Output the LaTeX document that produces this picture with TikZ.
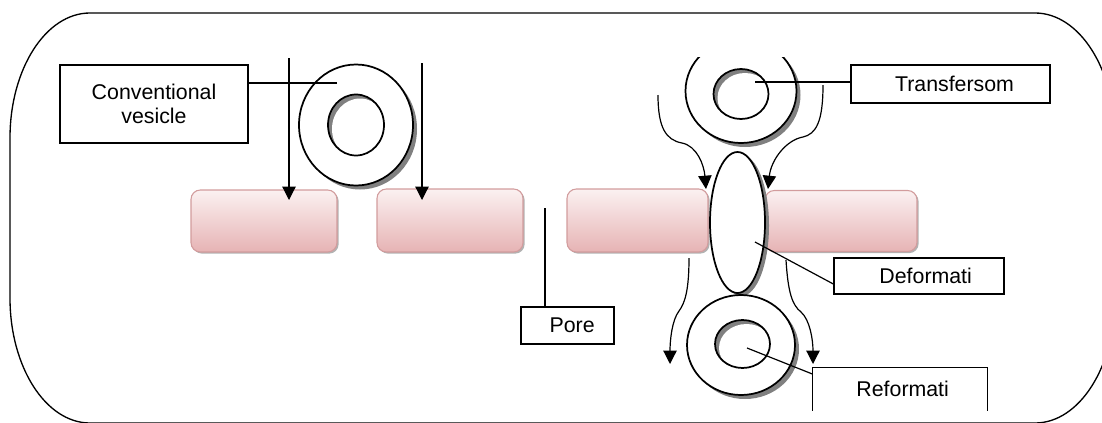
\documentclass[tikz,border=0pt]{standalone}
\usepackage{fontspec}
\setmainfont{Liberation Sans}
\usetikzlibrary{arrows.meta,shadows,calc}
\definecolor{barTop}{HTML}{FBF1F1}
\definecolor{barBot}{HTML}{E6B3B4}
\definecolor{barEdge}{HTML}{D29C9D}
\newdimen\pxu \pxu=0.75pt
\begin{document}
\begin{tikzpicture}[x=0.75pt,y=-0.75pt,
  lbl/.style={draw=black, line width=1pt, fill=white, inner sep=0pt,
    font=\fontsize{16}{18}\selectfont, align=center},
  membrane/.style={draw=barEdge, line width=0.8pt, rounded corners=7pt,
    top color=barTop, bottom color=barBot,
    drop shadow={shadow xshift=1.2pt, shadow yshift=-1.2pt, opacity=0.3, fill=black}},
  flow/.style={line width=0.9pt, -{Triangle[width=10pt,length=10pt]}},
  lead/.style={line width=0.9pt},
  ves/.style={line width=1.3pt},
  vshade/.style={fill=black!50},
  vfill/.style={fill=white}]
\useasboundingbox (0,0) rectangle (1102,422);
\clip (0,0) rectangle (1102,422);

% outer frame with large elliptical corners
\draw[line width=1pt] (10,138)
  arc[start angle=180,end angle=270,x radius=80,y radius=125] -- (1035,13)
  arc[start angle=270,end angle=360,x radius=80,y radius=125] -- (1115,298)
  arc[start angle=0,end angle=90,x radius=80,y radius=125] -- (90,423)
  arc[start angle=90,end angle=180,x radius=80,y radius=125] -- cycle;

% skin membrane segments
\node[membrane, minimum width=146\pxu, minimum height=62\pxu] (b1) at (264,221) {};
\node[membrane, minimum width=146\pxu, minimum height=63\pxu] (b2) at (450,220.5) {};
\node[membrane, minimum width=141\pxu, minimum height=63\pxu] (b3) at (637.5,220.5) {};
\node[membrane, minimum width=152\pxu, minimum height=61\pxu] (b4) at (841,221) {};

% conventional vesicle: shadowed ring, then white ring, then hole
\coordinate (cvc) at (356,125);
\coordinate (cvs) at (360,129);
\fill[vshade] (cvs) ellipse[x radius=57,y radius=60.5];
\fill[vfill] (cvc) ellipse[x radius=57,y radius=60.5];
\fill[vshade] (cvc) ellipse[x radius=28,y radius=30.5];
\fill[vfill] (cvs) ellipse[x radius=28,y radius=30.5];
\draw[ves] (cvc) ellipse[x radius=57,y radius=60.5];
\draw[ves] (cvc) ellipse[x radius=28,y radius=30.5];

% transfersome above the pore (top edge cut off)
\coordinate (tfc) at (741,91);
\coordinate (tfs) at (745,95);
\coordinate (tfi) at (741,94);
\coordinate (tfis) at (745,98);
\begin{scope}
  \clip (600,57) rectangle (900,200);
  \fill[vshade] (tfs) ellipse[x radius=55.5,y radius=52];
  \fill[vfill] (tfc) ellipse[x radius=55.5,y radius=52];
  \fill[vshade] (tfi) ellipse[x radius=27.5,y radius=25];
  \fill[vfill] (tfis) ellipse[x radius=27.5,y radius=25];
  \draw[ves] (tfc) ellipse[x radius=55.5,y radius=52];
  \draw[ves] (tfi) ellipse[x radius=27.5,y radius=25];
\end{scope}

% deformed vesicle squeezing through the pore
\coordinate (dfc) at (737.5,222.5);
\coordinate (dfs) at (741.5,225.5);
\fill[vshade] (dfs) ellipse[x radius=27.5,y radius=70.5];
\fill[vfill] (dfc) ellipse[x radius=27.5,y radius=70.5];
\draw[ves] (dfc) ellipse[x radius=27.5,y radius=70.5];

% reformed vesicle below the skin
\coordinate (rfc) at (741,345);
\coordinate (rfs) at (745,349);
\coordinate (rfi) at (742.5,344);
\coordinate (rfis) at (746.5,348);
\fill[vshade] (rfs) ellipse[x radius=54,y radius=50];
\fill[vfill] (rfc) ellipse[x radius=54,y radius=50];
\fill[vshade] (rfi) ellipse[x radius=27.5,y radius=24];
\fill[vfill] (rfis) ellipse[x radius=27.5,y radius=24];
\draw[ves] (rfc) ellipse[x radius=54,y radius=50];
\draw[ves] (rfi) ellipse[x radius=27.5,y radius=24];

% labels
\node[lbl, minimum width=188\pxu, minimum height=78\pxu] (cv) at (154,104) {Conventional\\vesicle};
\node[lbl, minimum width=199\pxu, minimum height=38\pxu] (tf) at (950.5,84) {\hspace*{6pt}Transfersom};
\node[lbl, minimum width=170\pxu, minimum height=36\pxu] (df) at (919,276) {\hspace*{10pt}Deformati};
\node[lbl, minimum width=93\pxu, minimum height=37\pxu] (pore) at (567.5,325.5) {\hspace*{7pt}Pore};
\node[lbl, draw=none, minimum width=174\pxu, minimum height=42\pxu] (rf) at (900,389) {\hspace*{4pt}Reformati};
\draw[line width=1pt] (rf.south west) -- (rf.north west) -- (rf.north east) -- (rf.south east);

% leader lines
\coordinate (cvp) at (337,83);
\draw[lead] (cvp) -- (cvp -| cv.east);
\coordinate (tfp) at (755,82);
\draw[lead] (tfp) -- (tfp -| tf.west);
\coordinate (dfp) at (755,242);
\draw[lead] (dfp) -- ([yshift=-6pt]df.west);
\coordinate (rfp) at (747,348);
\draw[lead] (rfp) -- ([yshift=-5pt]rf.north west);
\coordinate (pl) at (545,208);
\draw[lead] (pl) -- (pl |- pore.north);

% flow arrows around the conventional vesicle
\coordinate (a1s) at (289,58);
\coordinate (a1e) at (289,200);
\draw[flow] (a1s) -- (a1e);
\coordinate (a2s) at (422,63);
\coordinate (a2e) at (422,200);
\draw[flow] (a2s) -- (a2e);

% flow arrows around the transfersome
\coordinate (a3s) at (658,95);
\coordinate (a3e) at (706,189);
\draw[flow] (a3s) .. controls (658,128) and (666,140) .. (682,143)
  .. controls (697,146) and (704,165) .. (a3e);
\coordinate (a4s) at (823,85);
\coordinate (a4e) at (768,189);
\draw[flow] (a4s) .. controls (823,122) and (816,134) .. (803,137)
  .. controls (786,140) and (771,160) .. (a4e);
\coordinate (a5s) at (689,258);
\coordinate (a5e) at (670,364);
\draw[flow] (a5s) .. controls (689,290) and (685,303) .. (679,311)
  .. controls (672,320) and (670,340) .. (a5e);
\coordinate (a6s) at (786,260);
\coordinate (a6e) at (813,364);
\draw[flow] (a6s) .. controls (788,292) and (792,305) .. (801,312)
  .. controls (810,320) and (813,340) .. (a6e);
\end{tikzpicture}
\end{document}
